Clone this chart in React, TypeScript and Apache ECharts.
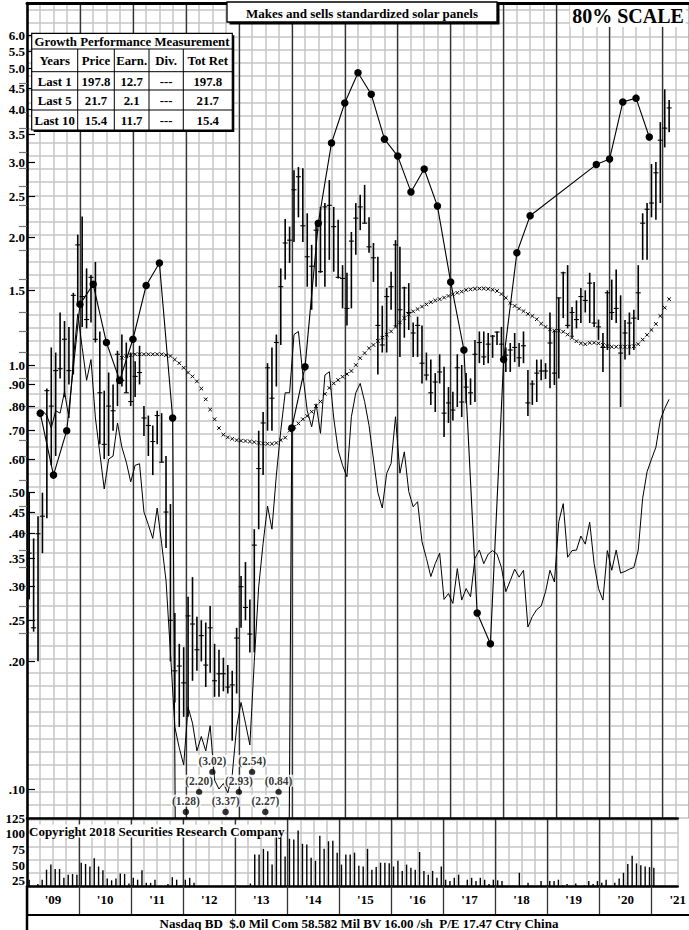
import React, { useEffect, useRef } from "react";
import * as echarts from "echarts";

const FONT = "'Liberation Serif', 'Times New Roman', serif";

// ---------- tick labels ----------
const yearLabels = ["'09", "'10", "'11", "'12", "'13", "'14", "'15", "'16", "'17", "'18", "'19", "'20", "'21"];
const priceTickValues = [6.0, 5.5, 5.0, 4.5, 4.0, 3.5, 3.0, 2.5, 2.0, 1.5, 1.0, 0.9, 0.8, 0.7, 0.6, 0.5, 0.45, 0.4, 0.35, 0.3, 0.25, 0.2, 0.1];
const priceTickLabels = ["6.0", "5.5", "5.0", "4.5", "4.0", "3.5", "3.0", "2.5", "2.0", "1.5", "1.0", ".90", ".80", ".70", ".60", ".50", ".45", ".40", ".35", ".30", ".25", ".20", ".10"];
const rightScaleTicks = [4.63, 3.95, 3.62, 3.18, 2.91, 2.64, 2.38, 2.12, 1.86, 1.59, 1.33, 1.2, 1.07, 0.93, 0.8, 0.665, 0.61, 0.535, 0.465, 0.4, 0.366, 0.334, 0.3, 0.27, 0.233];
const volumeTickValues = [125, 100, 75, 50, 25];

// ---------- monthly price bars (Jan 2009 = month 0) ----------
const priceHigh = [
  0.5, 0.39, 0.44, 0.5, 0.88, 1.1, 1.07, 1.33, 1.27, 1.23, 1.48, 2.03,
  2.24, 1.69, 1.63, 1.75, 1.2, 0.87, 0.96, 0.9, 1.08, 1.18, 1.13, 1.07,
  1.02, 1.11, 0.8, 0.76, 0.72, 0.78, 0.77, 0.61, 0.47, 0.26, 0.22, 0.216,
  0.284, 0.316, 0.255, 0.25, 0.247, 0.27, 0.22, 0.213, 0.204, 0.196, 0.19, 0.24,
  0.318, 0.343, 0.28, 0.41, 0.7, 0.775, 1.01, 1.1, 1.18, 1.69, 2.21, 2.12,
  2.88, 2.93, 2.91, 2.28, 1.92, 2.14, 2.36, 2.41, 2.73, 2.36, 2.2, 1.72,
  1.65, 2.06, 2.41, 2.52, 2.66, 2.23, 1.94, 1.8, 1.38, 1.52, 1.66, 1.97,
  1.9, 1.53, 1.56, 1.26, 1.3, 1.24, 1.07, 1.03, 0.957, 1.06, 0.99, 0.887,
  0.865, 1.06, 1.0, 0.957, 0.93, 1.145, 1.2, 1.2, 1.19, 1.177, 1.2, 1.23,
  1.1, 1.127, 1.19, 1.127, 1.2, 0.973, 0.92, 1.03, 1.03, 1.01, 1.33, 1.21,
  1.44, 1.66, 1.72, 1.37, 1.42, 1.52, 1.5, 1.65, 1.57, 1.28, 1.19, 1.5,
  1.59, 1.68, 1.46, 1.277, 1.33, 1.35, 1.72, 2.28, 2.41, 2.98, 3.01, 3.74,
  4.47, 4.22,
];
const priceLow = [
  0.28, 0.235, 0.2, 0.36, 0.435, 0.58, 0.61, 0.93, 0.84, 0.9, 0.95, 1.4,
  1.23, 1.22, 1.26, 1.13, 0.65, 0.6, 0.61, 0.7, 0.8, 0.89, 0.86, 0.8,
  0.84, 0.9, 0.68, 0.61, 0.55, 0.65, 0.59, 0.37, 0.2, 0.16, 0.14, 0.148,
  0.148, 0.18, 0.19, 0.2, 0.174, 0.188, 0.165, 0.165, 0.17, 0.168, 0.13, 0.168,
  0.24, 0.25, 0.21, 0.21, 0.41, 0.55, 0.7, 0.7, 0.89, 1.115, 1.59, 1.74,
  1.95, 2.23, 1.95, 1.53, 1.35, 1.53, 1.65, 1.53, 1.77, 1.66, 1.6, 1.36,
  1.24, 1.36, 1.82, 2.08, 2.16, 1.84, 1.57, 0.95, 1.07, 1.07, 1.35, 1.23,
  1.045, 1.16, 1.21, 1.045, 1.045, 0.905, 0.92, 0.805, 0.775, 0.905, 0.676, 0.73,
  0.74, 0.796, 0.754, 0.813, 0.805, 0.818, 1.01, 1.0, 1.01, 1.04, 1.115, 1.045,
  0.963, 0.963, 1.016, 0.99, 1.01, 0.758, 0.805, 0.818, 0.92, 0.927, 0.882, 0.897,
  0.93, 1.29, 1.22, 1.165, 1.22, 1.256, 1.33, 1.256, 1.23, 1.146, 0.963, 1.085,
  1.277, 1.256, 0.796, 1.03, 1.056, 1.085, 1.277, 1.77, 1.77, 2.23, 2.2, 2.41,
  3.26, 3.54,
];
const priceClose = [
  0.36, 0.24, 0.4, 0.44, 0.87, 0.8, 0.97, 0.98, 1.15, 0.97, 1.46, 1.92,
  1.45, 1.28, 1.61, 1.15, 0.86, 0.65, 0.8, 0.78, 1.06, 0.92, 0.86, 0.82,
  0.94, 0.96, 0.75, 0.72, 0.66, 0.76, 0.59, 0.45, 0.25, 0.19, 0.195, 0.178,
  0.256, 0.245, 0.213, 0.23, 0.196, 0.24, 0.18, 0.187, 0.187, 0.174, 0.176, 0.227,
  0.3, 0.268, 0.232, 0.376, 0.57, 0.73, 0.985, 0.835, 1.13, 1.53, 1.94, 1.97,
  2.59, 2.78, 2.13, 1.8, 1.71, 2.08, 1.66, 2.36, 2.38, 2.12, 1.61, 1.6,
  1.36, 1.96, 2.22, 2.36, 2.16, 1.9, 1.79, 1.24, 1.115, 1.45, 1.53, 1.92,
  1.35, 1.52, 1.33, 1.19, 1.24, 1.01, 0.947, 0.86, 0.912, 0.963, 0.77, 0.814,
  0.783, 0.985, 0.818, 0.887, 0.86, 1.06, 1.13, 1.045, 1.12, 1.17, 1.196, 1.12,
  1.055, 1.085, 1.1, 1.04, 1.11, 0.814, 0.902, 0.957, 0.968, 0.968, 1.127, 0.957,
  1.44, 1.65, 1.24, 1.33, 1.28, 1.45, 1.42, 1.56, 1.256, 1.23, 1.1, 1.48,
  1.33, 1.36, 1.067, 1.19, 1.256, 1.29, 1.48, 2.16, 2.33, 2.41, 2.84, 3.39,
  3.62, 4.04,
];

// ---------- moving average ("x" markers), from month 21 ----------
const MA_START = 21;
const maValues = [
  1.04, 1.05, 1.055, 1.06, 1.06, 1.06, 1.06, 1.06, 1.06, 1.06, 1.055, 1.05,
  1.03, 1.01, 0.985, 0.96, 0.94, 0.915, 0.88, 0.83, 0.785, 0.745, 0.71, 0.685,
  0.675, 0.67, 0.665, 0.663, 0.662, 0.66, 0.658, 0.655, 0.653, 0.652, 0.652, 0.655,
  0.665, 0.674, 0.7, 0.715, 0.728, 0.745, 0.758, 0.776, 0.8, 0.82, 0.855, 0.883,
  0.905, 0.922, 0.938, 0.952, 0.968, 1.0, 1.038, 1.067, 1.095, 1.115, 1.14, 1.16,
  1.18, 1.2, 1.23, 1.26, 1.29, 1.315, 1.338, 1.355, 1.373, 1.39, 1.407, 1.42,
  1.43, 1.442, 1.455, 1.468, 1.48, 1.49, 1.503, 1.508, 1.513, 1.515, 1.515, 1.512,
  1.505, 1.495, 1.47, 1.44, 1.4, 1.378, 1.358, 1.34, 1.32, 1.305, 1.282, 1.252,
  1.23, 1.213, 1.205, 1.205, 1.198, 1.18, 1.16, 1.138, 1.125, 1.12, 1.128, 1.129,
  1.125, 1.115, 1.108, 1.104, 1.104, 1.104, 1.104, 1.104, 1.108, 1.12, 1.148, 1.178,
  1.21, 1.25, 1.305, 1.365, 1.43,
];

// ---------- relative strength line, from month 3 ----------
const RS_START = 3;
const rsValues = [
  0.78, 0.76, 0.71, 0.78, 0.77, 0.865, 0.75, 1.03, 1.32, 1.1, 0.92, 1.03,
  0.75, 0.62, 0.51, 0.6, 0.61, 0.73, 0.64, 0.59, 0.53, 0.58, 0.585, 0.45,
  0.42, 0.39, 0.46, 0.38, 0.31, 0.21, 0.14, 0.125, 0.114, 0.156, 0.143, 0.123,
  0.133, 0.123, 0.141, 0.105, 0.1, 0.103, 0.098, 0.108, 0.14, 0.16, 0.143, 0.127,
  0.2, 0.3, 0.38, 0.465, 0.41, 0.55, 0.7, 0.86, 0.86, 1.18, 1.2, 0.95,
  0.78, 0.715, 0.81, 0.69, 0.947, 0.964, 0.75, 0.63, 0.58, 0.545, 0.755, 0.86,
  0.905, 0.82, 0.72, 0.6, 0.5, 0.46, 0.555, 0.586, 0.755, 0.556, 0.624, 0.503,
  0.463, 0.476, 0.383, 0.35, 0.317, 0.34, 0.36, 0.28, 0.289, 0.274, 0.331, 0.279,
  0.297, 0.284, 0.35, 0.366, 0.34, 0.358, 0.365, 0.358, 0.333, 0.292, 0.31, 0.33,
  0.316, 0.328, 0.241, 0.255, 0.265, 0.27, 0.292, 0.328, 0.308, 0.427, 0.471, 0.352,
  0.365, 0.366, 0.395, 0.378, 0.426, 0.34, 0.297, 0.279, 0.365, 0.328, 0.366, 0.323,
  0.326, 0.33, 0.333, 0.366, 0.485, 0.56, 0.6, 0.64, 0.742, 0.79, 0.83,
];

// ---------- quarterly earnings line (quarter 1 = end Q1 2009); negatives are deficits ----------
const epsValues: (number | null)[] = [
  0.77, 0.55, 0.7, 1.39, 1.55, 1.13, 0.92, 1.15, 1.54, 1.74, 0.75,
  -1.28, -2.2, -3.02, -3.37, -2.93, -2.54, -2.27, -0.84,
  0.71, 0.99, 2.16, 3.34, 4.15, 4.89, 4.35, 3.41, 3.11, 2.56, 2.9, 2.37, 1.57, 1.085, 0.26, 0.22, 1.03, 1.84, 2.25,
  null, null, null, null,
  2.97, 3.06, 4.17, 4.26, 3.45,
];

// ---------- monthly volume ----------
const volume = [
  27, 16, 20, 27, 43, 51, 44, 44, 30, 35, 36, 35,
  54, 52, 48, 61, 48, 42, 29, 26, 29, 37, 36, 21,
  30, 27, 42, 22, 22, 27, 14, 17, 20, 31, 27, 18,
  27, 30, 22, 14, 13, 12, 13, 13, 9, 8, 9, 12,
  18, 17, 17, 21, 67, 67, 76, 72, 51, 97, 96, 64,
  92, 91, 105, 84, 83, 62, 57, 97, 76, 88, 89, 70,
  51, 67, 67, 70, 49, 48, 76, 43, 47, 54, 54, 53,
  48, 57, 41, 51, 46, 43, 71, 41, 35, 41, 30, 48,
  27, 25, 30, 35, 17, 27, 30, 25, 30, 27, 20, 27,
  26, 25, 17, 13, 14, 38, 14, 22, 9, 14, 25, 14,
  25, 25, 27, 18, 20, 17, 21, 17, 18, 25, 20, 25,
  22, 27, 17, 22, 29, 38, 52, 65, 53, 50, 48, 47,
  46, 12,
];

const tableRows = [
  ["Years", "Price", "Earn.", "Div.", "Tot Ret"],
  ["Last 1", "197.8", "12.7", "---", "197.8"],
  ["Last 5", "21.7", "2.1", "---", "21.7"],
  ["Last 10", "15.4", "11.7", "---", "15.4"],
];

// ---------- layout ----------
const LEFT = 27;
const TOP = 3;
const PRICE_H = 815;
const VOL_TOP = 818;
const VOL_H = 68;
const MONTH_PX = 53 / 12;
const XMAX = 150;
const PLOT_W = XMAX * MONTH_PX;
const PRICE_MIN = 0.08543;
const PRICE_MAX = 7.142;
const GRID_SQ = 13.25;
const LIGHT = "#c6c6c6";
const DARK = "#333";
const DEFICIT_ROWS = [0.0883, 0.0984, 0.1096];
const ZTOP = 100;

function buildOption() {
  const barData = priceHigh.map((h, i) => [i + 0.5, h, priceLow[i], priceClose[i]]);
  const maData = maValues.map((v, i) => [MA_START + i + 0.5, v]);
  const rsData = rsValues.map((v, i) => [RS_START + i + 0.5, v]);
  const epsData: any[] = [];
  const deficitData: any[] = [];
  let k = 0;
  epsValues.forEach((v, i) => {
    const q = i + 1;
    if (v === null) return;
    if (v < 0) {
      epsData.push({ value: [3 * q, 1e-5], symbol: "none" });
      deficitData.push({ value: [3 * q, DEFICIT_ROWS[k % 3]], deficit: -v });
      k++;
    } else {
      epsData.push({ value: [3 * q, v] });
    }
  });
  const volData = volume.map((v, i) => [i + 0.5, v]);

  const yearBounds = yearLabels.map((_, i) => i * 12).filter((v) => v <= XMAX);
  const yearMids = yearLabels.map((_, i) => i * 12 + 6).filter((v) => v <= XMAX);

  const labelFont = { fontFamily: FONT, fontWeight: "bold" as const, fontSize: 13, color: "#000" };
  const TF = `bold 12.8px ${FONT}`;

  const col = [31.7, 77.7, 114.3, 149, 183.3, 232.3];
  const rowY = [33.3, 49, 71.7, 90, 110, 130];
  const g: any[] = [];
  // table
  g.push({ type: "rect", z: ZTOP, shape: { x: col[0] + 2, y: rowY[0] + 2, width: col[5] - col[0], height: rowY[5] - rowY[0] }, style: { fill: "#000" } });
  g.push({ type: "rect", z: ZTOP + 1, shape: { x: col[0], y: rowY[0], width: col[5] - col[0], height: rowY[5] - rowY[0] }, style: { fill: "#fff", stroke: "#000", lineWidth: 1.2 } });
  for (let r = 1; r <= 4; r++) {
    g.push({ type: "line", z: ZTOP + 2, shape: { x1: col[0], y1: rowY[r], x2: col[5], y2: rowY[r] }, style: { stroke: "#000", lineWidth: 1 } });
  }
  for (let c = 1; c <= 4; c++) {
    g.push({ type: "line", z: ZTOP + 2, shape: { x1: col[c], y1: rowY[1], x2: col[c], y2: rowY[5] }, style: { stroke: "#000", lineWidth: 1 } });
  }
  g.push({
    type: "text", z: ZTOP + 3,
    x: (col[0] + col[5]) / 2, y: (rowY[0] + rowY[1]) / 2 + 1,
    style: { text: "Growth Performance Measurement", font: TF, fill: "#000", align: "center", verticalAlign: "middle" },
  });
  tableRows.forEach((row, r) => {
    row.forEach((cell, c) => {
      g.push({
        type: "text", z: ZTOP + 3,
        x: (col[c] + col[c + 1]) / 2, y: (rowY[r + 1] + rowY[r + 2]) / 2 + 1,
        style: { text: cell, font: TF, fill: "#000", align: "center", verticalAlign: "middle" },
      });
    });
  });
  // title box
  g.push({ type: "rect", z: ZTOP, shape: { x: 229.5, y: 4.5, width: 270, height: 20 }, style: { fill: "#000" } });
  g.push({ type: "rect", z: ZTOP + 1, shape: { x: 227, y: 2, width: 270, height: 20 }, style: { fill: "#fff", stroke: "#000", lineWidth: 1.3 } });
  g.push({ type: "text", z: ZTOP + 3, x: 362, y: 13, style: { text: "Makes and sells standardized solar panels", font: `bold 13px ${FONT}`, fill: "#000", align: "center", verticalAlign: "middle" } });
  g.push({
    type: "text", z: ZTOP + 3, x: 628, y: 16,
    style: { text: "80% SCALE", font: `bold 20px ${FONT}`, fill: "#000", align: "center", verticalAlign: "middle", backgroundColor: "#fff", padding: [1, 2] },
  });
  g.push({
    type: "text", z: ZTOP + 3, x: 29, y: 831,
    style: { text: "Copyright 2018 Securities Research Company", font: `bold 13px ${FONT}`, fill: "#000", align: "left", verticalAlign: "middle", backgroundColor: "#fff" },
  });
  g.push({ type: "line", z: ZTOP, shape: { x1: LEFT, y1: 915, x2: 689, y2: 915 }, style: { stroke: "#000", lineWidth: 2 } });
  g.push({ type: "line", z: ZTOP, shape: { x1: LEFT, y1: 886, x2: LEFT, y2: 930 }, style: { stroke: "#000", lineWidth: 2.5 } });
  g.push({
    type: "text", z: ZTOP + 3, x: 359, y: 923,
    style: { text: "Nasdaq BD  $.0 Mil Com 58.582 Mil BV 16.00 /sh  P/E 17.47 Ctry China", font: `bold 13px ${FONT}`, fill: "#000", align: "center", verticalAlign: "middle" },
  });

  return {
    animation: false,
    backgroundColor: "#fff",
    grid: [
      { left: LEFT, top: TOP, width: PLOT_W, height: PRICE_H },
      { left: LEFT, top: VOL_TOP, width: PLOT_W, height: VOL_H },
    ],
    xAxis: [
      {
        gridIndex: 0, type: "value", min: 0, max: XMAX, interval: 3,
        axisLine: { show: false }, axisTick: { show: false }, axisLabel: { show: false },
        splitLine: { show: true, lineStyle: { color: LIGHT, width: 1.5 } },
      },
      {
        gridIndex: 0, type: "value", min: 0, max: XMAX, interval: 12, position: "top",
        axisLine: { show: true, onZero: false, lineStyle: { color: "#000", width: 3 } },
        axisTick: { show: false }, axisLabel: { show: false },
        splitLine: { show: true, lineStyle: { color: DARK, width: 1.3 } },
      },
      {
        gridIndex: 1, type: "value", min: 0, max: XMAX, interval: 3, position: "top",
        axisLine: { show: true, onZero: false, lineStyle: { color: "#000", width: 2.5 } },
        axisTick: { show: false }, axisLabel: { show: false },
        splitLine: { show: true, lineStyle: { color: LIGHT, width: 1.5 } },
      },
      {
        gridIndex: 1, type: "value", min: 0, max: XMAX, interval: 12, position: "bottom",
        axisLine: { show: true, onZero: false, lineStyle: { color: "#000", width: 2.5 } },
        axisTick: { show: true, customValues: yearBounds, length: 29, inside: false, lineStyle: { color: DARK, width: 1.3 } },
        axisLabel: {
          show: true, customValues: yearMids, margin: 7, ...labelFont,
          formatter: (v: number) => yearLabels[Math.round((v - 6) / 12)] ?? "",
        },
        splitLine: { show: true, lineStyle: { color: DARK, width: 1.3 } },
      },
    ],
    yAxis: [
      {
        gridIndex: 0, type: "log", min: PRICE_MIN, max: PRICE_MAX, position: "left",
        axisLine: { show: true, onZero: false, lineStyle: { color: "#000", width: 2.5 } },
        axisTick: { show: true, customValues: priceTickValues, inside: true, length: 8, lineStyle: { color: "#000", width: 1.2 } },
        axisLabel: {
          show: true, customValues: priceTickValues, margin: 2, ...labelFont,
          formatter: (v: number) => {
            const idx = priceTickValues.findIndex((t) => Math.abs(t - v) < 1e-6);
            return idx >= 0 ? priceTickLabels[idx] : "";
          },
        },
        splitLine: { show: false },
      },
      {
        gridIndex: 0, type: "value", min: 0, max: PRICE_H / GRID_SQ, interval: 1, position: "left",
        axisLine: { show: false }, axisTick: { show: false }, axisLabel: { show: false },
        splitLine: { show: true, lineStyle: { color: LIGHT, width: 1.5 } },
      },
      {
        gridIndex: 0, type: "log", min: PRICE_MIN, max: PRICE_MAX, position: "right",
        axisLine: { show: false },
        axisTick: { show: true, customValues: rightScaleTicks, inside: true, length: 8, lineStyle: { color: "#777", width: 1.2 } },
        axisLabel: { show: false }, splitLine: { show: false },
      },
      {
        gridIndex: 1, type: "value", min: 17, max: 125, position: "left",
        axisLine: { show: true, onZero: false, lineStyle: { color: "#000", width: 2.5 } },
        axisTick: { show: false },
        axisLabel: { show: true, customValues: volumeTickValues, margin: 2, ...labelFont },
        splitLine: { show: false },
      },
      {
        gridIndex: 1, type: "value", min: 0, max: VOL_H / GRID_SQ, interval: 1, position: "right",
        axisLine: { show: false }, axisTick: { show: false }, axisLabel: { show: false },
        splitLine: { show: true, lineStyle: { color: LIGHT, width: 1.5 } },
      },
    ],
    series: [
      {
        type: "custom", name: "price", xAxisIndex: 0, yAxisIndex: 0, clip: true, z: 3,
        data: barData,
        encode: { x: 0, y: [1, 2, 3] },
        renderItem: (_p: any, api: any) => {
          const x = api.value(0);
          const hi = api.coord([x, api.value(1)]);
          const lo = api.coord([x, api.value(2)]);
          const cl = api.coord([x, api.value(3)]);
          return {
            type: "group",
            children: [
              { type: "line", shape: { x1: hi[0], y1: hi[1], x2: lo[0], y2: lo[1] }, style: { stroke: "#000", lineWidth: 1.6 } },
              { type: "line", shape: { x1: cl[0] - 2.5, y1: cl[1], x2: cl[0] + 2.5, y2: cl[1] }, style: { stroke: "#000", lineWidth: 1.1 } },
            ],
          };
        },
      },
      {
        type: "custom", name: "ma", xAxisIndex: 0, yAxisIndex: 0, clip: true, z: 3,
        data: maData,
        encode: { x: 0, y: 1 },
        renderItem: (_p: any, api: any) => {
          const p = api.coord([api.value(0), api.value(1)]);
          const s = 1.8;
          return {
            type: "group",
            children: [
              { type: "line", shape: { x1: p[0] - s, y1: p[1] - s, x2: p[0] + s, y2: p[1] + s }, style: { stroke: "#000", lineWidth: 1 } },
              { type: "line", shape: { x1: p[0] - s, y1: p[1] + s, x2: p[0] + s, y2: p[1] - s }, style: { stroke: "#000", lineWidth: 1 } },
            ],
          };
        },
      },
      {
        type: "line", name: "rs", xAxisIndex: 0, yAxisIndex: 0, data: rsData,
        showSymbol: false, symbol: "none", clip: true, z: 3,
        lineStyle: { color: "#000", width: 1 },
      },
      {
        type: "line", name: "eps", xAxisIndex: 0, yAxisIndex: 0, data: epsData,
        symbol: "circle", symbolSize: 7.5, showSymbol: true, clip: true, z: 4,
        itemStyle: { color: "#000" },
        lineStyle: { color: "#000", width: 1.1 },
      },
      {
        type: "scatter", name: "deficits", xAxisIndex: 0, yAxisIndex: 0, data: deficitData,
        symbol: "circle", symbolSize: 6.5, z: 4,
        itemStyle: { color: "#000" },
        label: {
          show: true, position: "top", distance: 2,
          fontFamily: FONT, fontWeight: "bold", fontSize: 11.5, color: "#000",
          backgroundColor: "#fff", padding: [0, 1],
          formatter: (p: any) => `(${p.data.deficit.toFixed(2)})`,
        },
      },
      {
        type: "bar", name: "volume", xAxisIndex: 3, yAxisIndex: 3, data: volData,
        barWidth: 1.4, itemStyle: { color: "#000" }, clip: true, z: 3,
      },
    ],
    graphic: { elements: g },
  };
}

export default function App() {
  const ref = useRef<HTMLDivElement>(null);
  useEffect(() => {
    if (!ref.current) return;
    const chart = echarts.init(ref.current, null, { renderer: "svg" });
    chart.setOption(buildOption() as any);
    return () => chart.dispose();
  }, []);
  return <div ref={ref} style={{ position: "absolute", left: 0, top: 0, width: 689, height: 930, background: "#fff" }} />;
}
